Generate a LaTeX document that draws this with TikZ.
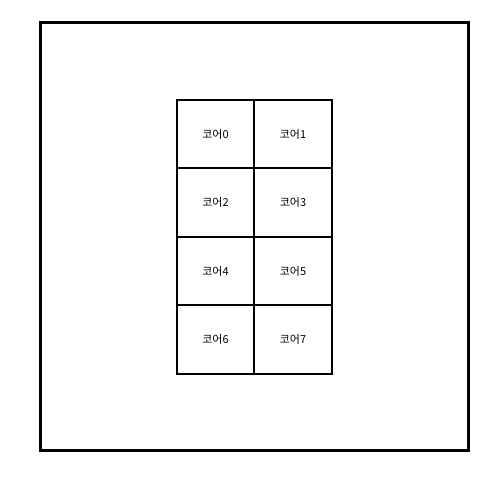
\documentclass[tikz,border=0pt]{standalone}
\usepackage{fontspec}
\newfontfamily\krfont{Noto Sans CJK KR}
\begin{document}
\begin{tikzpicture}[x=1pt,y=-1pt,
  cellbox/.style={draw,line width=2pt,minimum width=77.5pt,minimum height=68.5pt,inner sep=0pt,font=\krfont\fontsize{11}{13}\selectfont}]
\useasboundingbox (0,0) rectangle (500,484);
\draw[line width=3pt] (40.5,22.5) rectangle (468.5,450.5); %chip
\node[cellbox] (c0) at (215.5,134) {코어0};
\node[cellbox] (c1) at (293,134) {코어1};
\node[cellbox] (c2) at (215.5,202.5) {코어2};
\node[cellbox] (c3) at (293,202.5) {코어3};
\node[cellbox] (c4) at (215.5,271) {코어4};
\node[cellbox] (c5) at (293,271) {코어5};
\node[cellbox] (c6) at (215.5,339.5) {코어6};
\node[cellbox] (c7) at (293,339.5) {코어7};
\end{tikzpicture}
\end{document}
